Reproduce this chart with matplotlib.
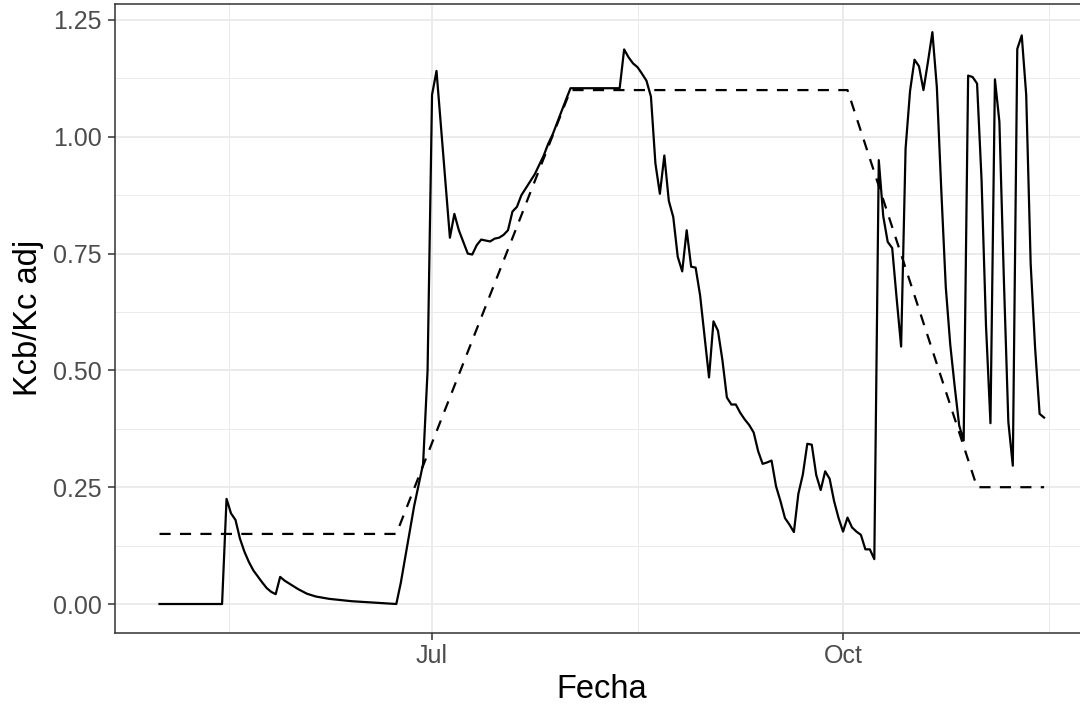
import matplotlib
matplotlib.use("Agg")
import matplotlib.pyplot as plt
import matplotlib.dates as mdates
import matplotlib.ticker as mticker
import pandas as pd

plt.rcParams['font.family'] = ['Liberation Sans', 'DejaVu Sans']

# ---- data -------------------------------------------------------------
kc_dates = [
    "2021-05-01", "2021-05-15", "2021-05-16", "2021-05-17", "2021-05-18", "2021-05-19",
    "2021-05-20", "2021-05-21", "2021-05-22", "2021-05-23", "2021-05-24", "2021-05-25",
    "2021-05-26", "2021-05-27", "2021-05-28", "2021-05-29", "2021-05-30", "2021-05-31",
    "2021-06-01", "2021-06-02", "2021-06-03", "2021-06-05", "2021-06-08", "2021-06-13",
    "2021-06-18", "2021-06-23", "2021-06-24", "2021-06-25", "2021-06-26", "2021-06-27",
    "2021-06-28", "2021-06-29", "2021-06-30", "2021-07-01", "2021-07-02", "2021-07-03",
    "2021-07-04", "2021-07-05", "2021-07-06", "2021-07-07", "2021-07-08", "2021-07-09",
    "2021-07-10", "2021-07-11", "2021-07-12", "2021-07-13", "2021-07-14", "2021-07-15",
    "2021-07-16", "2021-07-17", "2021-07-18", "2021-07-19", "2021-07-20", "2021-07-21",
    "2021-07-22", "2021-07-23", "2021-07-24", "2021-07-25", "2021-07-26", "2021-07-27",
    "2021-07-28", "2021-07-29", "2021-07-30", "2021-07-31", "2021-08-01", "2021-08-12",
    "2021-08-13", "2021-08-14", "2021-08-15", "2021-08-16", "2021-08-17", "2021-08-18",
    "2021-08-19", "2021-08-20", "2021-08-21", "2021-08-22", "2021-08-23", "2021-08-24",
    "2021-08-25", "2021-08-26", "2021-08-27", "2021-08-28", "2021-08-29", "2021-08-30",
    "2021-08-31", "2021-09-01", "2021-09-02", "2021-09-03", "2021-09-04", "2021-09-05",
    "2021-09-06", "2021-09-07", "2021-09-08", "2021-09-09", "2021-09-10", "2021-09-11",
    "2021-09-12", "2021-09-13", "2021-09-14", "2021-09-15", "2021-09-16", "2021-09-17",
    "2021-09-18", "2021-09-19", "2021-09-20", "2021-09-21", "2021-09-22", "2021-09-23",
    "2021-09-24", "2021-09-25", "2021-09-26", "2021-09-27", "2021-09-28", "2021-09-29",
    "2021-09-30", "2021-10-01", "2021-10-02", "2021-10-03", "2021-10-04", "2021-10-05",
    "2021-10-06", "2021-10-07", "2021-10-08", "2021-10-09", "2021-10-10", "2021-10-11",
    "2021-10-12", "2021-10-13", "2021-10-14", "2021-10-15", "2021-10-16", "2021-10-17",
    "2021-10-18", "2021-10-19", "2021-10-20", "2021-10-21", "2021-10-22", "2021-10-23",
    "2021-10-24", "2021-10-25", "2021-10-26", "2021-10-27", "2021-10-28", "2021-10-29",
    "2021-10-30", "2021-10-31", "2021-11-01", "2021-11-02", "2021-11-03", "2021-11-04",
    "2021-11-05", "2021-11-06", "2021-11-07", "2021-11-08", "2021-11-09", "2021-11-10",
    "2021-11-11", "2021-11-12", "2021-11-13", "2021-11-14", "2021-11-15",
]
kc_values = [
    0.0, 0.0, 0.225, 0.194, 0.18, 0.14,
    0.112, 0.09, 0.072, 0.059, 0.046, 0.034,
    0.026, 0.021, 0.058, 0.05, 0.044, 0.038,
    0.032, 0.027, 0.022, 0.016, 0.011, 0.006,
    0.003, 0.0, 0.045, 0.10, 0.155, 0.21,
    0.255, 0.30, 0.50, 1.09, 1.141, 1.022,
    0.903, 0.784, 0.835, 0.80, 0.775, 0.75,
    0.748, 0.768, 0.78, 0.778, 0.776, 0.782,
    0.784, 0.79, 0.80, 0.84, 0.85, 0.875,
    0.89, 0.905, 0.92, 0.94, 0.96, 0.985,
    1.005, 1.03, 1.055, 1.08, 1.104, 1.104,
    1.187, 1.17, 1.157, 1.149, 1.135, 1.12,
    1.086, 0.943, 0.878, 0.96, 0.863, 0.828,
    0.743, 0.712, 0.80, 0.722, 0.72, 0.661,
    0.573, 0.485, 0.605, 0.585, 0.522, 0.442,
    0.427, 0.427, 0.409, 0.395, 0.383, 0.367,
    0.327, 0.30, 0.303, 0.307, 0.252, 0.22,
    0.184, 0.17, 0.154, 0.236, 0.277, 0.343,
    0.341, 0.276, 0.244, 0.284, 0.268, 0.22,
    0.184, 0.155, 0.185, 0.164, 0.155, 0.148,
    0.117, 0.117, 0.096, 0.95, 0.83, 0.775,
    0.762, 0.654, 0.551, 0.975, 1.098, 1.165,
    1.151, 1.10, 1.16, 1.224, 1.106, 0.884,
    0.678, 0.555, 0.465, 0.382, 0.35, 1.131,
    1.128, 1.114, 0.909, 0.596, 0.387, 1.123,
    1.032, 0.695, 0.39, 0.296, 1.188, 1.217,
    1.09, 0.728, 0.547, 0.407, 0.399,
]

kcb_dates = ["2021-05-01", "2021-06-23", "2021-08-01", "2021-10-02", "2021-10-31", "2021-11-15"]
kcb_values = [0.15, 0.15, 1.10, 1.10, 0.25, 0.25]

y_ticks = [0.0, 0.25, 0.5, 0.75, 1.0, 1.25]
x_tick_dates = ["2021-07-01", "2021-10-01"]
x_tick_labels = ["Jul", "Oct"]
x_minor_dates = ["2021-05-16 12:00", "2021-08-16 00:00", "2021-11-16 00:00"]

# ---- plot ---------------------------------------------------------------
kc_x = pd.to_datetime(kc_dates)
kcb_x = pd.to_datetime(kcb_dates)

fig = plt.figure(figsize=(10.8, 7.05), dpi=100)
ax = fig.add_axes([115.3 / 1080, (705 - 632.6) / 705, 973 / 1080, (632.6 - 3.55) / 705])

ax.plot(kcb_x, kcb_values, color="black", lw=1.6, dashes=(5.0, 4.2), zorder=3)
ax.plot(kc_x, kc_values, color="black", lw=1.6, zorder=4)

# limits with 5% expansion as in ggplot
xmin = mdates.date2num(min(kc_x.min(), kcb_x.min()))
xmax = mdates.date2num(max(kc_x.max(), kcb_x.max()))
xr = xmax - xmin
ax.set_xlim(xmin - 0.05 * xr, xmax + 0.05 * xr)
ymin = min(min(kc_values), min(kcb_values))
ymax = max(max(kc_values), max(kcb_values))
yr = ymax - ymin
ax.set_ylim(ymin - 0.05 * yr, ymax + 0.05 * yr)

ax.set_xticks(mdates.date2num(pd.to_datetime(x_tick_dates)))
ax.set_xticklabels(x_tick_labels)
ax.set_xticks(mdates.date2num(pd.to_datetime(x_minor_dates, format="%Y-%m-%d %H:%M")), minor=True)
ax.set_yticks(y_ticks)
ax.yaxis.set_major_formatter(mticker.FuncFormatter(lambda v, p: f"{v:.2f}"))
ax.set_yticks([0.125, 0.375, 0.625, 0.875, 1.125], minor=True)

ax.grid(which="major", color="#EBEBEB", lw=1.4)
ax.grid(which="minor", color="#EBEBEB", lw=0.7)
ax.set_axisbelow(True)

for s in ax.spines.values():
    s.set_color("#333333")
    s.set_linewidth(1.1)

ax.tick_params(which="major", length=5, width=1.1, color="#333333",
               labelsize=18, labelcolor="#4D4D4D")
ax.tick_params(axis="y", which="major", pad=5)
ax.tick_params(axis="x", which="major", pad=3)
ax.tick_params(which="minor", length=0)

ax.set_xlabel("Fecha", fontsize=23.5, color="black")
ax.xaxis.label.set_va("baseline")
ax.xaxis.set_label_coords(0.5, (632.6 - 698.3) / 629.05)
ax.set_ylabel("Kcb/Kc adj", fontsize=23.5, color="black")
ax.yaxis.label.set_va("baseline")
ax.yaxis.set_label_coords((37.5 - 115.3) / 973, 0.5)

fig.savefig("out.png", dpi=100)
